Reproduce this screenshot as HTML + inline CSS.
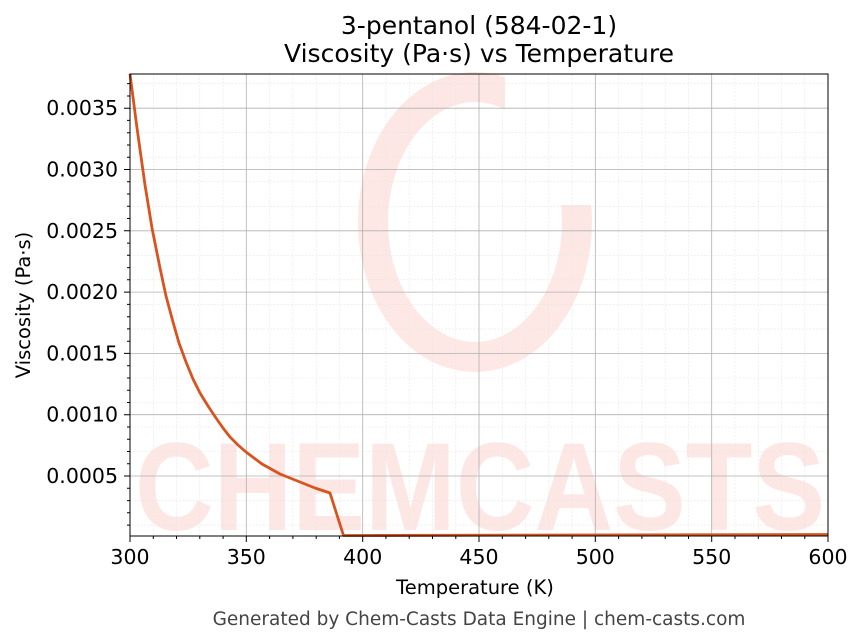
<!DOCTYPE html>
<html><head><meta charset="utf-8"><style>
html,body{margin:0;padding:0;background:#fff;}
svg{display:block;font-family:"DejaVu Sans","Liberation Sans",sans-serif;}
</style></head><body>
<svg width="863" height="644" viewBox="0 0 863 644" xmlns="http://www.w3.org/2000/svg">
<rect width="863" height="644" fill="#fff"/>
<g opacity="0.75">
<ellipse cx="475" cy="222" rx="102" ry="135" fill="none" stroke="#fde0dc" stroke-width="30"/>
<rect x="505" y="60" width="100" height="145" fill="#fff"/>
<text x="480" y="530" text-anchor="middle" font-size="125" font-weight="bold" fill="#fde0dc" font-family="Liberation Sans,sans-serif" textLength="690" lengthAdjust="spacingAndGlyphs">CHEMCASTS</text>
</g>
<g stroke="#e6e6e6" stroke-width="0.6" stroke-dasharray="2,1.5">
<path d="M153.3 74V536M176.5 74V536M199.8 74V536M223.1 74V536M269.6 74V536M292.9 74V536M316.2 74V536M339.4 74V536M385.9 74V536M409.2 74V536M432.5 74V536M455.8 74V536M502.3 74V536M525.6 74V536M548.8 74V536M572.1 74V536M618.6 74V536M641.9 74V536M665.2 74V536M688.5 74V536M735 74V536M758.3 74V536M781.5 74V536M804.8 74V536"/>
<path d="M130 525.1H828M130 500.6H828M130 451.5H828M130 427H828M130 402.5H828M130 378H828M130 328.9H828M130 304.4H828M130 279.8H828M130 255.3H828M130 206.3H828M130 181.7H828M130 157.2H828M130 132.7H828M130 83.6H828"/>
</g>
<g stroke="#b0b0b0" stroke-width="0.8">
<path d="M246.3 74V536M362.7 74V536M479 74V536M595.3 74V536M711.7 74V536"/>
<path d="M130 476H828M130 414.7H828M130 353.4H828M130 292.1H828M130 230.8H828M130 169.5H828M130 108.2H828"/>
</g>
<polyline fill="none" stroke="#d9531e" stroke-width="2.8" stroke-linejoin="round"
points="130,74 137,128 145,185 152,228 160,268 166,296 173,322 179,343 186,362 193,379 200,393 208,406 216,418 223,428 230,437 238,445 246,452 254,458 262,464 271,469 280,474 290,478 300,482 315,488 330,493 343.5,535.5 828,534.5"/>
<rect x="130" y="74" width="698" height="462" fill="none" stroke="#000" stroke-width="1"/>
<g stroke="#000" stroke-width="1">
<path d="M130 536v6M246.3 536v6M362.7 536v6M479 536v6M595.3 536v6M711.7 536v6M828 536v6"/>
<path d="M153.3 536v3M176.5 536v3M199.8 536v3M223.1 536v3M269.6 536v3M292.9 536v3M316.2 536v3M339.4 536v3M385.9 536v3M409.2 536v3M432.5 536v3M455.8 536v3M502.3 536v3M525.6 536v3M548.8 536v3M572.1 536v3M618.6 536v3M641.9 536v3M665.2 536v3M688.5 536v3M735 536v3M758.3 536v3M781.5 536v3M804.8 536v3"/>
<path d="M130 476h-6M130 414.7h-6M130 353.4h-6M130 292.1h-6M130 230.8h-6M130 169.5h-6M130 108.2h-6"/>
<path d="M130 525.1h-3M130 512.8h-3M130 500.6h-3M130 488.3h-3M130 463.8h-3M130 451.5h-3M130 439.3h-3M130 427h-3M130 402.5h-3M130 390.2h-3M130 378h-3M130 365.7h-3M130 341.2h-3M130 328.9h-3M130 316.7h-3M130 304.4h-3M130 279.8h-3M130 267.6h-3M130 255.3h-3M130 243.1h-3M130 218.5h-3M130 206.3h-3M130 194h-3M130 181.7h-3M130 157.2h-3M130 145h-3M130 132.7h-3M130 120.4h-3M130 96h-3M130 83.6h-3"/>
</g>
<g font-size="20.5" fill="#000" text-anchor="middle">
<text x="130" y="564">300</text><text x="246.3" y="564">350</text><text x="362.7" y="564">400</text><text x="479" y="564">450</text><text x="595.3" y="564">500</text><text x="711.7" y="564">550</text><text x="828" y="564">600</text>
</g>
<g font-size="20.5" fill="#000" text-anchor="end">
<text x="118" y="483">0.0005</text><text x="118" y="421.7">0.0010</text><text x="118" y="360.4">0.0015</text><text x="118" y="299.1">0.0020</text><text x="118" y="237.8">0.0025</text><text x="118" y="176.5">0.0030</text><text x="118" y="115.2">0.0035</text>
</g>
<text x="475" y="594" font-size="19.5" text-anchor="middle">Temperature (K)</text>
<text transform="translate(30,305) rotate(-90)" font-size="19.5" text-anchor="middle">Viscosity (Pa·s)</text>
<text x="479" y="34" font-size="25" text-anchor="middle">3-pentanol (584-02-1)</text>
<text x="479" y="62" font-size="25" text-anchor="middle">Viscosity (Pa·s) vs Temperature</text>
<text x="479" y="625" font-size="18.5" fill="#444" text-anchor="middle">Generated by Chem-Casts Data Engine | chem-casts.com</text>
</svg>
</body></html>
